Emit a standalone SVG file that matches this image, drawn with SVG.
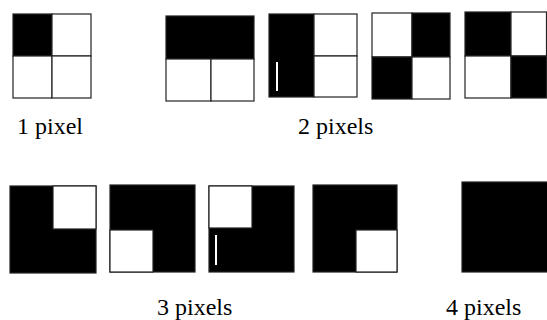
<svg xmlns="http://www.w3.org/2000/svg" width="547" height="320" viewBox="0 0 547 320">
<rect width="547" height="320" fill="#fff"/>
<g id="boxes" stroke="#222" stroke-width="1.2" fill="#fff">
<g id="p1">
<rect fill="#000" x="13" y="14" width="39" height="42"/>
<rect x="52" y="14" width="39" height="42"/>
<rect x="13" y="56" width="39" height="42"/>
<rect x="52" y="56" width="39" height="42"/>
</g>
<g id="p2a">
<rect fill="#000" x="166" y="16" width="88" height="43"/>
<rect x="166" y="59" width="45" height="42"/>
<rect x="211" y="59" width="43" height="42"/>
</g>
<g id="p2b">
<rect fill="#000" x="269" y="14" width="45" height="83"/>
<rect x="314" y="14" width="43" height="42"/>
<rect x="314" y="56" width="43" height="41"/>
<rect stroke="none" x="276" y="62" width="2" height="29"/>
</g>
<g id="p2c">
<rect x="372" y="13" width="40" height="44"/>
<rect fill="#000" x="412" y="13" width="38" height="44"/>
<rect fill="#000" x="372" y="57" width="40" height="42"/>
<rect x="412" y="57" width="38" height="42"/>
</g>
<g id="p2d">
<rect fill="#000" x="465" y="12" width="46" height="44"/>
<rect x="511" y="12" width="35.5" height="44"/>
<rect x="465" y="56" width="46" height="42"/>
<rect fill="#000" x="511" y="56" width="35.5" height="42"/>
</g>
<g id="p3a">
<rect fill="#000" x="10" y="186" width="86" height="87"/>
<rect x="53" y="186" width="43" height="43"/>
</g>
<g id="p3b">
<rect fill="#000" x="110" y="185" width="85" height="87"/>
<rect x="110" y="230" width="43" height="42"/>
</g>
<g id="p3c">
<rect fill="#000" x="209" y="186" width="85" height="86"/>
<rect x="209" y="186" width="43" height="42"/>
<rect stroke="none" x="215" y="235" width="2" height="30"/>
</g>
<g id="p3d">
<rect fill="#000" x="313" y="185" width="84" height="87"/>
<rect x="356" y="230" width="41" height="42"/>
</g>
<g id="p4">
<rect fill="#000" x="462" y="182" width="86" height="90"/>
</g>
</g>
<text id="t1" x="17" y="134" font-family="Times New Roman" font-size="24">1 pixel</text>
<text id="t2" x="298" y="134" font-family="Times New Roman" font-size="24">2 pixels</text>
<text id="t3" x="157" y="315" font-family="Times New Roman" font-size="24">3 pixels</text>
<text id="t4" x="446" y="315" font-family="Times New Roman" font-size="24">4 pixels</text>
</svg>
